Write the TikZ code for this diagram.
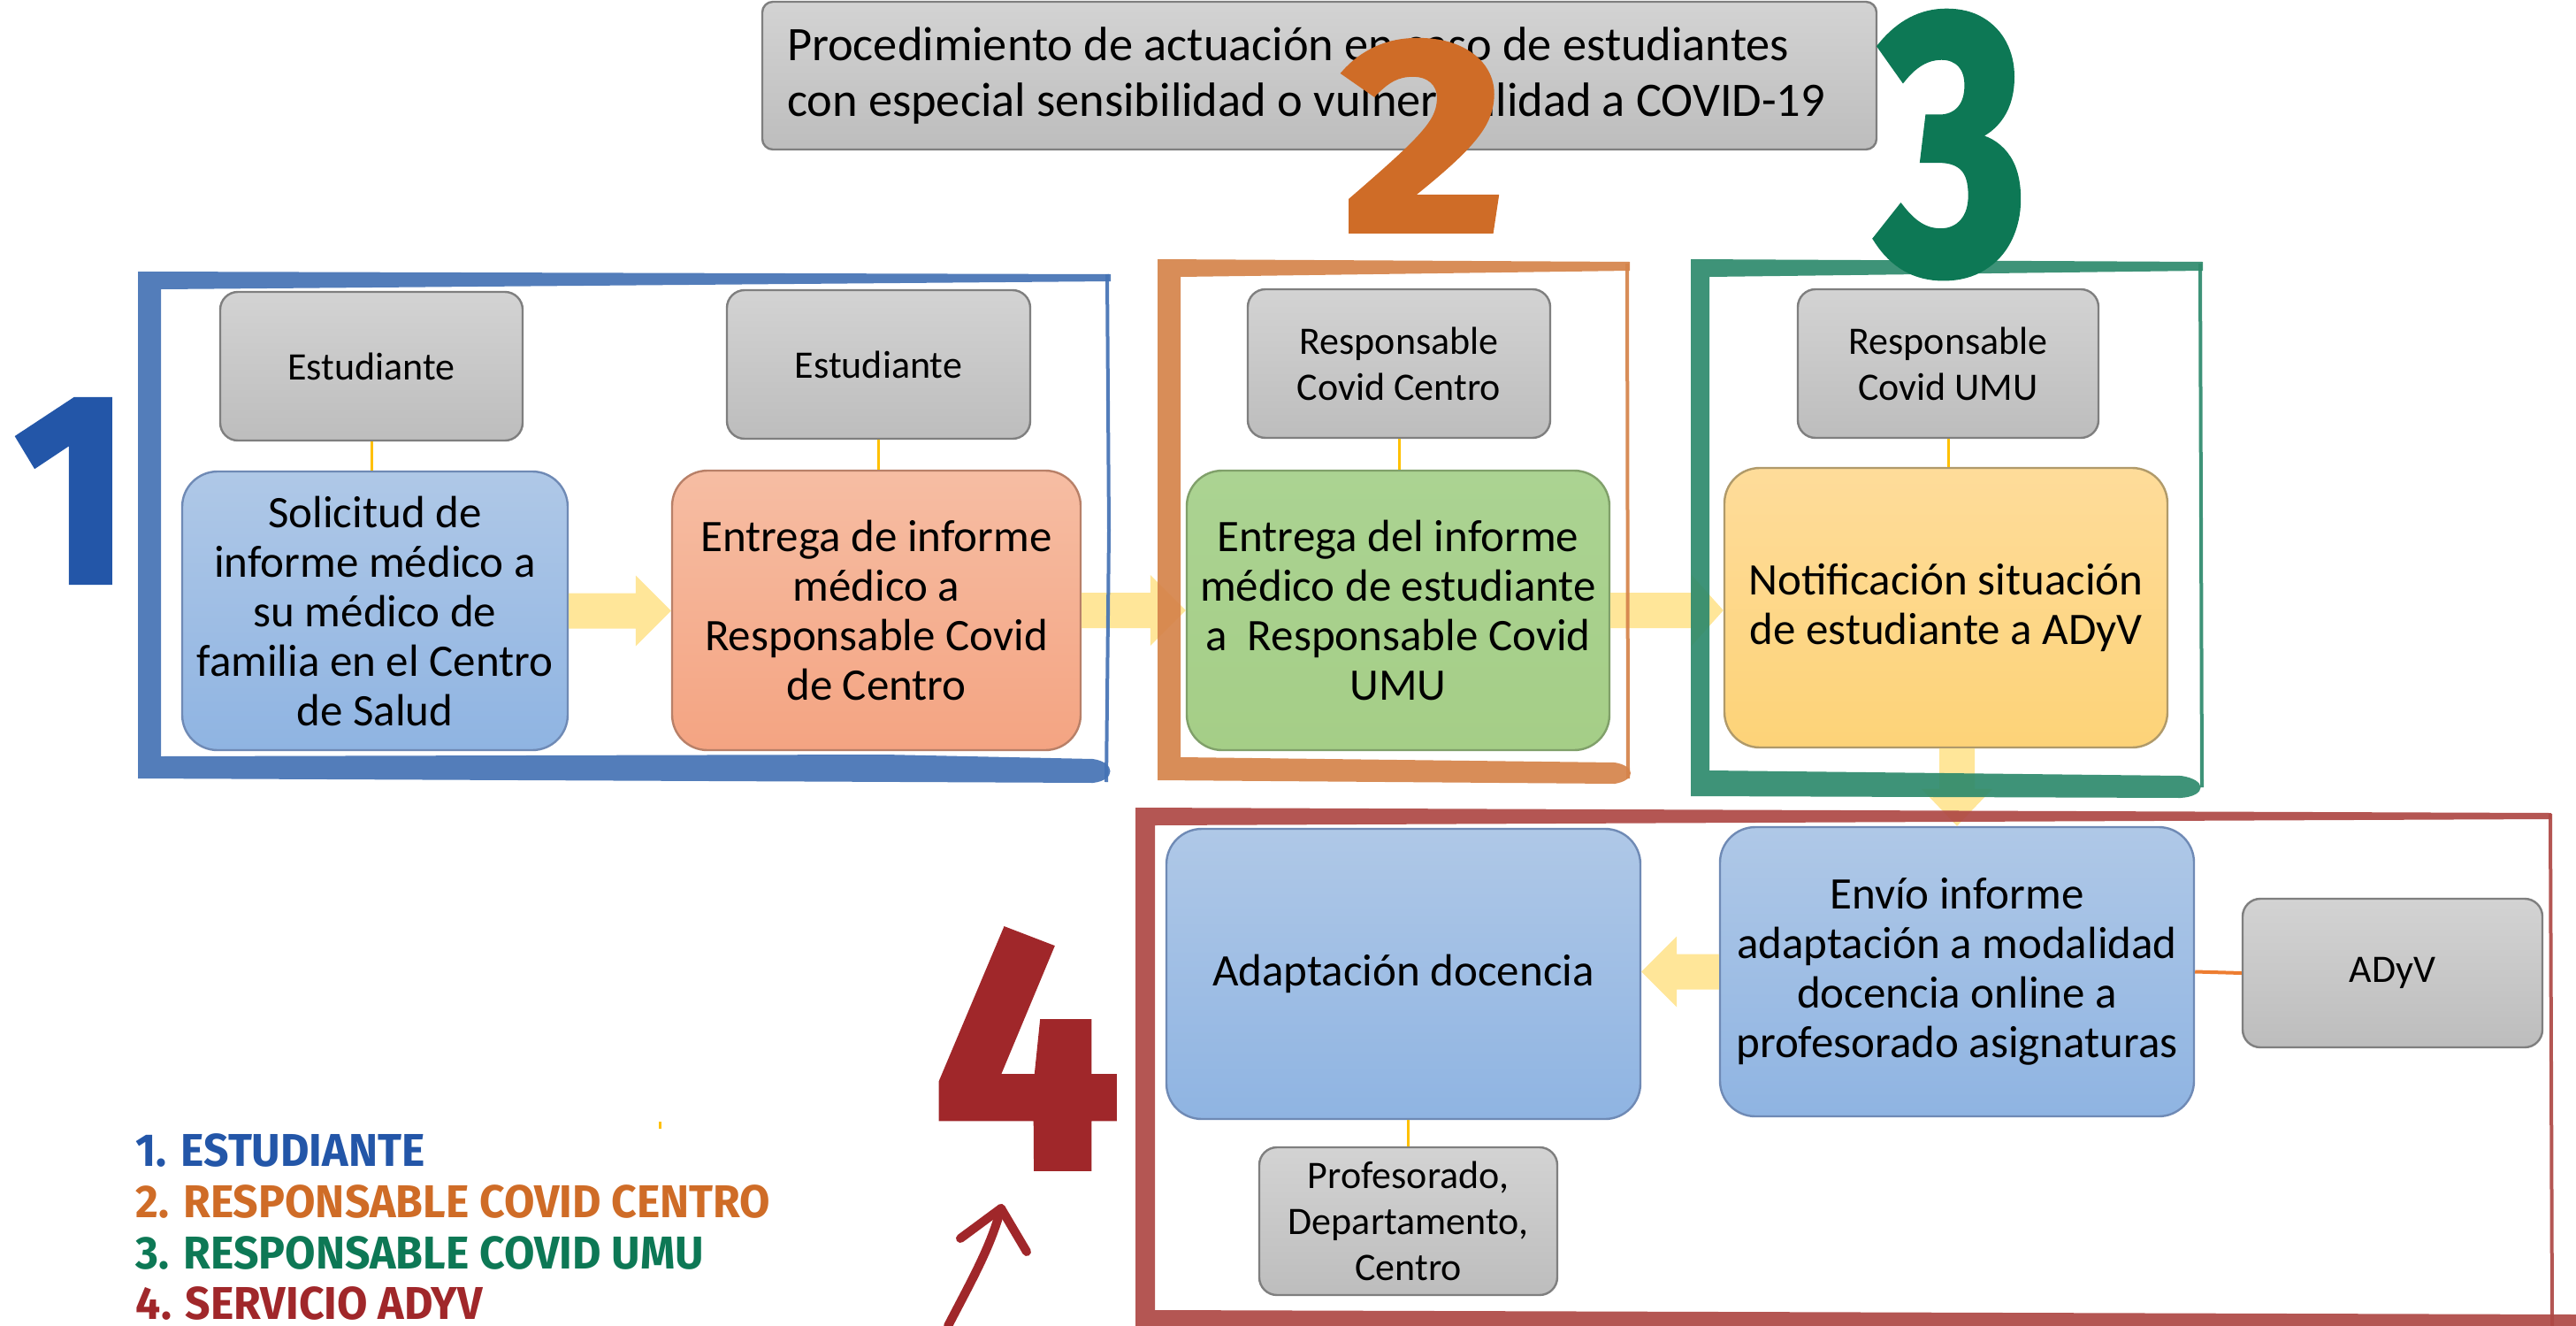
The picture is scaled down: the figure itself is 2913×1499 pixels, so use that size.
\documentclass[tikz,border=0pt]{standalone}
\usepackage{fontspec}
\setmainfont{Carlito}
\newfontfamily\legfont{Fira Sans}
\newfontfamily\numfont{Fira Sans}[BoldFeatures={FakeBold=2}]
\usetikzlibrary{calc}
\definecolor{gtop}{HTML}{D3D3D3}
\definecolor{gbot}{HTML}{BDBDBD}
\definecolor{gline}{HTML}{7F7F7F}
\definecolor{blTop}{HTML}{AFC8E7}
\definecolor{blBot}{HTML}{8FB4E2}
\definecolor{blLine}{HTML}{6F8AB5}
\definecolor{saTop}{HTML}{F6BDA3}
\definecolor{saBot}{HTML}{F4A482}
\definecolor{saLine}{HTML}{B88068}
\definecolor{grTop}{HTML}{ABD392}
\definecolor{grBot}{HTML}{A5CE87}
\definecolor{grLine}{HTML}{80A06A}
\definecolor{yeTop}{HTML}{FEDC9A}
\definecolor{yeBot}{HTML}{FDD378}
\definecolor{yeLine}{HTML}{B09A6A}
\definecolor{fatc}{HTML}{FFE699}
\definecolor{gold}{HTML}{FFC000}
\definecolor{orln}{HTML}{ED7D31}
\definecolor{fr1}{HTML}{4472B4}
\definecolor{fr2}{HTML}{D5834A}
\definecolor{fr3}{HTML}{2E8A6C}
\definecolor{fr4}{HTML}{AE4844}
\definecolor{n1c}{HTML}{2356A8}
\definecolor{n2c}{HTML}{CF6C27}
\definecolor{n3c}{HTML}{0D7855}
\definecolor{n4c}{HTML}{A0272A}
\tikzset{
  gbox/.style={draw=gline, line width=0.6pt, rounded corners=5pt, top color=gtop, bottom color=gbot,
    align=center, inner sep=0pt, font=\fontsize{11pt}{13pt}\selectfont},
  mbox/.style n args={3}{draw=#3, line width=0.6pt, rounded corners=10pt, top color=#1, bottom color=#2,
    align=center, inner sep=0pt, font=\fontsize{12.75pt}{14pt}\selectfont},
  fat/.style={fill=fatc},
  link/.style={draw=gold, line width=0.75pt},
  frame/.style={fill=#1, opacity=0.92},
  frline/.style={draw=#1, line width=1pt, opacity=0.92},
  bignum/.style={inner sep=0pt, text=#1},
  legend/.style={anchor=base west, inner sep=0pt, text=#1,
    font=\legfont\bfseries\fontsize{13pt}{13pt}\selectfont}
}
\newcommand{\legtext}[1]{\scalebox{0.96}[1]{#1}}
\begin{document}
\begin{tikzpicture}[x=0.25pt,y=-0.25pt]
\useasboundingbox (0,0) rectangle (2913,1499);

% title
\node[draw=gline, line width=0.6pt, rounded corners=3pt, top color=gtop, bottom color=gbot,
  minimum width=314pt, minimum height=41.75pt, text width=301pt, align=flush left, inner xsep=7pt,
  font=\fontsize{13.6pt}{15.75pt}\selectfont] (title) at (1492,85.5)
  {Procedimiento de actuación en caso de estudiantes\\con especial sensibilidad o vulnerabilidad a COVID-19};

% boxes
\node[gbox, minimum width=85.5pt, minimum height=42pt] (est1) at (420,414) {Estudiante};
\node[mbox={blTop}{blBot}{blLine}, minimum width=109pt, minimum height=78.75pt] (sol) at (424,690.5)
  {Solicitud de\\informe médico a\\su médico de\\familia en el Centro\\de Salud};
\node[gbox, minimum width=85.75pt, minimum height=42pt] (est2) at (993.5,412) {Estudiante};
\node[mbox={saTop}{saBot}{saLine}, minimum width=115.5pt, minimum height=79pt] (ent) at (991,690)
  {Entrega de informe\\médico a\\Responsable Covid\\de Centro};
\node[gbox, minimum width=85.5pt, minimum height=42pt] (rcc) at (1582,411) {Responsable\\Covid Centro};
\node[mbox={grTop}{grBot}{grLine}, minimum width=119.5pt, minimum height=79pt] (gre) at (1581,690)
  {Entrega del informe\\médico de estudiante\\a\ \ Responsable Covid\\UMU};
\node[gbox, minimum width=85pt, minimum height=42pt] (rcu) at (2203,411) {Responsable\\Covid UMU};
\node[mbox={yeTop}{yeBot}{yeLine}, minimum width=125.25pt, minimum height=79pt] (not) at (2200.5,687)
  {Notificación situación\\de estudiante a ADyV};
\node[mbox={blTop}{blBot}{blLine}, minimum width=134pt, minimum height=81.75pt] (env) at (2213,1098.5)
  {Envío informe\\adaptación a modalidad\\docencia online a\\profesorado asignaturas};
\node[gbox, minimum width=84.75pt, minimum height=42pt] (ady) at (2705.5,1100) {ADyV};
\node[mbox={blTop}{blBot}{blLine}, minimum width=134pt, minimum height=82pt] (ada) at (1587,1101)
  {Adaptación docencia};
\node[gbox, minimum width=84.25pt, minimum height=41.75pt] (pro) at (1592.5,1380.5)
  {Profesorado,\\Departamento,\\Centro};

% connectors
\draw[link] (est1.south) -- (sol.north -| est1.south);
\draw[link] (est2.south) -- (ent.north -| est2.south);
\draw[link] (rcc.south) -- (gre.north -| rcc.south);
\draw[link] (rcu.south) -- (not.north -| rcu.south);
\draw[link] (ada.south -| pro.north) -- (pro.north);
\draw[draw=orln, line width=1pt] (env.east) -- (ady.west);
\draw[gold, line width=0.75pt] (746,1268) -- (746,1276);

% fat arrows
\fill[fat] let \p1=(sol.east), \p2=(ent.west) in
  (\x1,\y1+5pt) -- (\x2-10pt,\y1+5pt) -- (\x2-10pt,\y1+10pt) -- (\x2,\y1) -- (\x2-10pt,\y1-10pt) -- (\x2-10pt,\y1-5pt) -- (\x1,\y1-5pt) -- cycle;
\fill[fat] let \p1=(ent.east), \p2=(gre.west) in
  (\x1,\y1+5pt) -- (\x2-10pt,\y1+5pt) -- (\x2-10pt,\y1+10pt) -- (\x2,\y1) -- (\x2-10pt,\y1-10pt) -- (\x2-10pt,\y1-5pt) -- (\x1,\y1-5pt) -- cycle;
\fill[fat] let \p1=(gre.east), \p2=(not.west) in
  (\x1,\y1+5pt) -- (\x2-9pt,\y1+5pt) -- (\x2-9pt,\y1+10pt) -- (\x2,\y1) -- (\x2-9pt,\y1-10pt) -- (\x2-9pt,\y1-5pt) -- (\x1,\y1-5pt) -- cycle;
\fill[fat] let \p1=(not.south), \p2=(env.north) in
  (\x2-5pt,\y1) -- (\x2-5pt,\y2+10.5pt) -- (\x2-10pt,\y2+10.5pt) -- (\x2,\y2) -- (\x2+10pt,\y2+10.5pt) -- (\x2+5pt,\y2+10.5pt) -- (\x2+5pt,\y1) -- cycle;
\fill[fat] let \p1=(env.west), \p2=(ada.east) in
  (\x1,\y1+5pt) -- (\x2+10pt,\y1+5pt) -- (\x2+10pt,\y1+10pt) -- (\x2,\y1) -- (\x2+10pt,\y1-10pt) -- (\x2+10pt,\y1-5pt) -- (\x1,\y1-5pt) -- cycle;

% hand-drawn frames
\fill[frame=fr1] (156,307) -- (1256,310) -- (1256,318) -- (182,327) -- (182,855) -- (1000,853) -- (1236,858)
  .. controls (1262,862) and (1262,882) .. (1236,885) -- (156,880) -- cycle;
\draw[frline=fr1] (1252,310) -- (1254,600) -- (1251,884);
\fill[frame=fr2] (1309,293) -- (1843,296) -- (1843,306) -- (1335,313) -- (1335,856) -- (1826,862)
  .. controls (1850,866) and (1850,882) .. (1826,886) -- (1309,882) -- cycle;
\draw[frline=fr2] (1840,298) -- (1841,880);
\fill[frame=fr3] (1912,293) -- (2491,296) -- (2491,306) -- (1933,313) -- (1933,871) -- (2466,877)
  .. controls (2496,881) and (2496,900) .. (2466,902) -- (1912,900) -- cycle;
\draw[frline=fr3] (2488,298) -- (2490,890);
\fill[frame=fr4] (1284,913) -- (2885,919) -- (2885,926) -- (1306,933) -- (1306,1481) -- (2913,1486)
  -- (2913,1499) -- (1284,1499) -- cycle;
\draw[frline=fr4] (2884,920) -- (2886,1499);

% big numbers
\node[bignum=n1c] (num1) at (82,555) {\resizebox{32.5pt}{51.5pt}{\numfont\bfseries 1}};
\node[bignum=n2c] (num2) at (1610.5,153.5) {\resizebox{46pt}{53.75pt}{\numfont\bfseries 2}};
\node[bignum=n3c, anchor=base] (num3) at (2208,306) {\resizebox{42.5pt}{73pt}{\numfont\bfseries 3}};
\node[bignum=n4c] (num4) at (1161,1186) {\resizebox{53pt}{67pt}{\numfont\bfseries 4}};

% curved arrow
\coordinate (cs) at (1072,1499);
\coordinate (ct) at (1132,1366);
\coordinate (cl) at (1086,1400);
\coordinate (cr) at (1161,1415);
\draw[n4c, line width=2.5pt, line cap=round] (cs) .. controls (1100,1445) and (1120,1410) .. (ct);
\draw[n4c, line width=2.5pt, line cap=round, line join=round] (cl) -- (ct) -- (cr);

% legend
\node[legend=n1c] (l1) at (153,1318) {\legtext{1. ESTUDIANTE}};
\node[legend=n2c] (l2) at (153,1376) {\legtext{2. RESPONSABLE COVID CENTRO}};
\node[legend=n3c] (l3) at (153,1434) {\legtext{3. RESPONSABLE COVID UMU}};
\node[legend=n4c] (l4) at (153,1491) {\legtext{4. SERVICIO ADYV}};
\end{tikzpicture}
\end{document}
